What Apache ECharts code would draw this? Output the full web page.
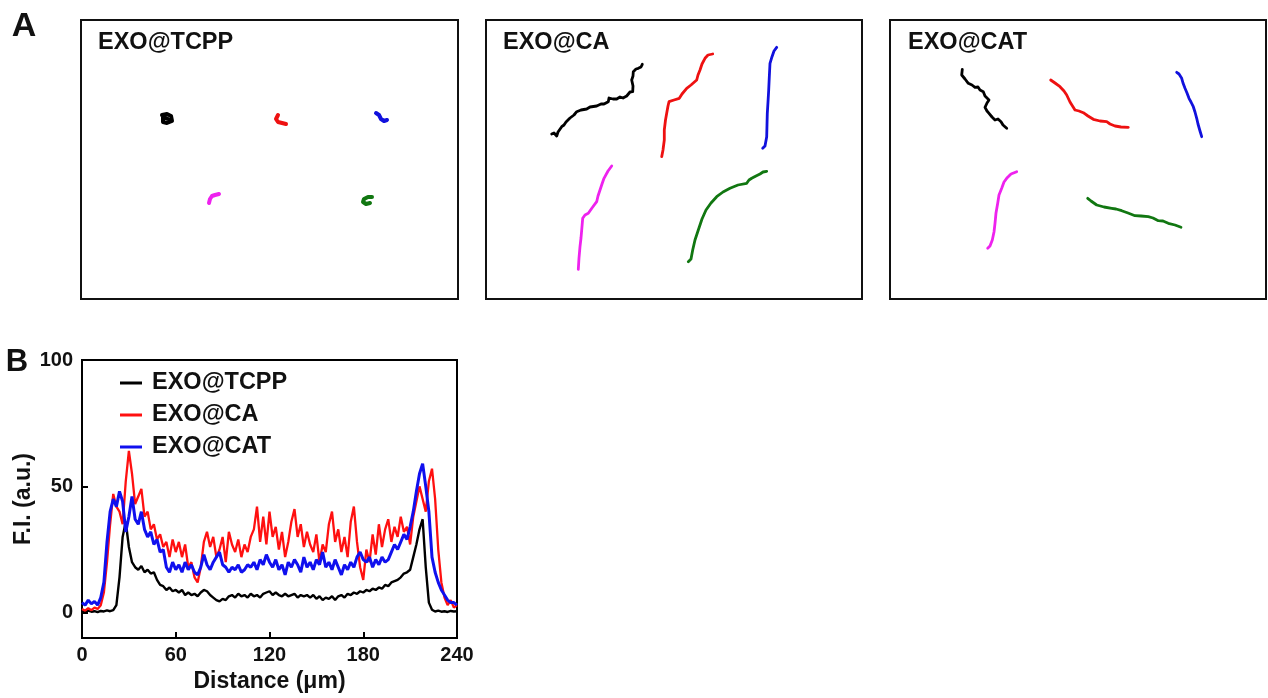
<!DOCTYPE html>
<html>
<head>
<meta charset="UTF-8">
<title>EXO trajectories and fluorescence profile</title>
<script src="https://cdn.jsdelivr.net/npm/echarts@6/dist/echarts.min.js"></script>
<style>
  html, body { margin: 0; padding: 0; background: #fff; }
  #main { width: 1268px; height: 698px; }
</style>
</head>
<body>
<div id="main"></div>
<script>
// ---- panel B: line profile (distance in um, F.I. in a.u.) ----
var distance = [
  0, 2, 4, 6, 8, 10, 12, 14, 16, 18,
  20, 22, 24, 26, 28, 30, 32, 34, 36, 38,
  40, 42, 44, 46, 48, 50, 52, 54, 56, 58,
  60, 62, 64, 66, 68, 70, 72, 74, 76, 78,
  80, 82, 84, 86, 88, 90, 92, 94, 96, 98,
  100, 102, 104, 106, 108, 110, 112, 114, 116, 118,
  120, 122, 124, 126, 128, 130, 132, 134, 136, 138,
  140, 142, 144, 146, 148, 150, 152, 154, 156, 158,
  160, 162, 164, 166, 168, 170, 172, 174, 176, 178,
  180, 182, 184, 186, 188, 190, 192, 194, 196, 198,
  200, 202, 204, 206, 208, 210, 212, 214, 216, 218,
  220, 222, 224, 226, 228, 230, 232, 234, 236, 238,
  240
];
var fiTCPP = [
  0.5, 0.3, 0.8, 0.4, 0.6, 0.2, 0.7, 0.5, 0.9, 0.6,
  1.0, 3, 14, 30, 36, 26, 20, 18, 17, 18.5,
  16, 17, 15.5, 16, 13, 11, 10.5, 9, 10, 8.5,
  9, 8, 9, 7, 8, 7, 7.5, 6.5, 8, 9,
  8.5, 7, 6, 5, 4.5, 5.5, 5, 6.5, 7, 6,
  7.5, 6.5, 7, 6, 7.5, 6.5, 7, 6, 7.5, 8,
  8.5, 7, 8, 7, 6.5, 7.5, 6.5, 7, 7.5, 6,
  7, 6.5, 7, 6, 7, 5.5, 6.5, 5, 6, 5.5,
  6.5, 5, 6.5, 7, 6, 7.5, 7, 8, 7.5, 8.5,
  8, 9, 8.5, 9.5, 9, 10, 9.5, 11, 10.5, 12,
  12.5, 13, 14, 15.5, 16, 17, 22, 27, 33, 37,
  18, 4, 1.2, 0.5, 0.8, 0.4, 0.6, 0.3, 0.7, 0.5,
  0.6
];
var fiCA = [
  1.5, 0.8, 1.8, 1.0, 2.0, 1.5, 3, 8, 20, 35,
  47, 42, 40, 35, 52, 64, 55, 43, 46, 49,
  38, 40, 33, 35, 29, 31, 26, 28, 22, 29,
  24, 28, 22, 27, 18, 20, 14, 12, 18, 28,
  32, 26, 30, 22, 25, 30, 20, 32, 27, 24,
  29, 22, 27, 24, 30, 33, 42, 28, 38, 27,
  40, 30, 34, 25, 32, 22, 28, 36, 41, 30,
  35, 26, 32, 27, 24, 31, 20, 27, 24, 35,
  40, 28, 33, 24, 30, 22, 36, 42, 28, 18,
  13, 25, 20, 31, 23, 35, 26, 33, 37, 28,
  34, 30, 38, 32, 34, 27, 38, 44, 50, 45,
  40, 52, 57, 45, 25, 12, 6, 3, 5, 2,
  3
];
var fiCAT = [
  4, 3, 5, 3.5, 4.5, 3, 6, 12, 28, 40,
  45, 42, 48, 44, 32, 38, 46, 37, 35, 40,
  33, 30, 32, 27, 29, 24, 25, 18, 16, 20,
  17, 19, 16, 20, 17, 19, 16, 15, 18, 23,
  19, 17, 20, 22, 24, 19, 18, 16, 18, 17,
  19, 16, 17, 19, 18, 20, 17, 21, 19, 23,
  20, 18, 21, 17, 19, 15, 20, 18, 21, 19,
  16, 22, 18, 20, 17, 21, 19, 24, 18, 20,
  17, 21, 18, 15, 19, 17, 20, 18, 22, 24,
  21, 20, 22, 18, 21, 19, 22, 20, 21, 24,
  27, 25, 28, 31, 29, 34, 40, 48, 55, 59,
  50, 40, 22, 16, 12, 9, 7, 5, 4, 4,
  3
];
var xTicks = [0, 60, 120, 180, 240];
var yTicks = [0, 50, 100];
var profileNames = ['EXO@TCPP', 'EXO@CA', 'EXO@CAT'];

// ---- panel A: single particle trajectories (box coordinates, px) ----
var tcppBlack = [[81,95],[86,94],[90,96],[91,101],[86,103],[82,102],[82,97],[87,99]];
var tcppRed = [[197,95],[195,99],[197,102],[201,103],[205,104]];
var tcppBlue = [[295,93],[298,95],[300,99],[303,101],[306,100]];
var tcppMagenta = [[128,183],[129,179],[131,176],[134,175],[138,174]];
var tcppGreen = [[291,177],[287,177],[283,179],[282,182],[285,184],[289,183]];

var caBlack = [[65.7,114],[68,113],[70.7,116],[72,112],[75.7,106.7],[78,105],[80,102],[84,98],[86,99],[88,95],[90.7,91.7],[95,90],[100.7,89],[104,87],[110.7,86],[115,84],[118,84],[122.3,81.7],[123,78],[127,79],[130.7,79],[134,77],[137,78],[140.7,76],[144,72],[146.7,71.7],[147,66],[145.7,60],[147,56],[147.3,51.7],[150,49],[152.3,48.3],[155,47],[154,45],[156.3,44.3]];
var caRed = [[175.7,136.7],[177,130],[178.3,120],[178.3,110],[179.5,100],[180.7,93.3],[182,86],[183,81.7],[188,80],[193.3,78.3],[196,74],[200.7,68.3],[205,65],[210.7,60],[212,55],[214,50],[216,44],[219,38.3],[222,35],[226.7,34]];
var caBlue = [[276.7,128.3],[279,126],[280.7,116.7],[281,105],[281.3,93.3],[282,82],[282.7,70],[283.3,57],[284,43.3],[286,36.7],[288,31],[290.7,27.3]];
var caMagenta = [[92.3,249.3],[93,238],[94,226.7],[95,218],[95.7,210],[96.7,198.3],[99,195],[102.3,193.3],[106,188],[110.7,181.7],[112,176],[114,170],[116,164],[118,158.3],[122,151],[125.7,146]];
var caGreen = [[202.3,241.7],[205,239],[206.7,230],[209,220],[212.3,210],[216,199],[220,190],[225,183],[230.7,176.7],[237,172],[244,168.3],[252,165],[260.7,163.3],[263,160],[265.7,158.3],[270,156],[274,154],[277,152],[280.7,151.3]];

var catBlack = [[72.3,49.3],[71.7,55],[75,59],[78.3,63.3],[82,65],[85,67.3],[88,67],[90,70],[93.3,71.7],[95,76],[99,80],[97,83],[95,87.3],[97,91],[99,93.3],[102,97],[105,100],[108,99],[111,101.7],[113,105],[116.7,108.3]];
var catRed = [[160.7,60],[165,63],[170,66.7],[174,71],[176.7,75],[180,82],[185,90],[189,91],[193.3,92.7],[198,96],[203.3,99.3],[210,101],[216.7,101.7],[220,104],[225,106],[231,107],[238.3,107.3]];
var catBlue = [[286.7,52.3],[289,54],[291.7,58.3],[293,63],[295,68.3],[297,73],[299,78.3],[301,82],[303.3,86.7],[305,92],[306.7,98.3],[308,104],[310,111],[311.7,116.7]];
var catMagenta = [[97.7,228.3],[100,226],[102.3,220],[104,212],[105,203.3],[106,193],[107.7,183.3],[109,175],[111.7,168.3],[114,162],[116.7,158.3],[121,154],[126.7,151.7]];
var catGreen = [[197.7,178.3],[201,181],[206.7,185],[214,187],[221.7,188.3],[226,189],[231.7,190.7],[238,193],[245,195.7],[251,196],[258.3,196.7],[263,198],[268.3,200.7],[273,201],[278.3,203.3],[285,205],[291,207.3]];

var panelTitles = ['EXO@TCPP', 'EXO@CA', 'EXO@CAT'];
var trackColors = ['#000000', '#ee1111', '#1111dd', '#ee22ee', '#117711'];
var panelTracks = [
  [tcppBlack, tcppRed, tcppBlue, tcppMagenta, tcppGreen],
  [caBlack, caRed, caBlue, caMagenta, caGreen],
  [catBlack, catRed, catBlue, catMagenta, catGreen]
];

var FONT = '"Liberation Sans", Arial, sans-serif';
var myChart = echarts.init(document.getElementById('main'));

var panelLeft = [81, 486, 890];
var panelWidth = [377, 376, 376];
var grids = [], xAxes = [], yAxes = [], series = [];

for (var p = 0; p < 3; p++) {
  grids.push({ left: panelLeft[p], top: 20, width: panelWidth[p], height: 279,
    outerBoundsMode: 'none',
    show: true, borderColor: '#111', borderWidth: 2, backgroundColor: '#fff' });
  xAxes.push({ type: 'value', gridIndex: p, min: 0, max: panelWidth[p], show: false });
  yAxes.push({ type: 'value', gridIndex: p, min: 0, max: 279, inverse: true, show: false });
  for (var k = 0; k < 5; k++) {
    series.push({
      name: 'track-' + p + '-' + k,
      type: 'line', xAxisIndex: p, yAxisIndex: p,
      data: panelTracks[p][k], showSymbol: false, silent: true,
      lineStyle: { color: trackColors[k], width: p === 0 ? 4 : 2.8, join: 'round', cap: 'round' }
    });
  }
}

// panel B
grids.push({ left: 82, top: 360, width: 375, height: 278, outerBoundsMode: 'none',
  show: true, borderColor: '#000', borderWidth: 2, backgroundColor: 'transparent' });
xAxes.push({
  type: 'value', gridIndex: 3, min: 0, max: 240, interval: 60,
  name: 'Distance (\u03bcm)', nameLocation: 'middle', nameGap: 32, nameMoveOverlap: false,
  nameTextStyle: { fontFamily: FONT, fontWeight: 'bold', fontSize: 23, color: '#111' },
  axisLine: { show: false, onZero: false },
  axisTick: { show: true, inside: true, length: 6, lineStyle: { color: '#000', width: 2 } },
  axisLabel: { fontFamily: FONT, fontWeight: 'bold', fontSize: 20, color: '#111', margin: 7 },
  splitLine: { show: false }
});
yAxes.push({
  type: 'value', gridIndex: 3, min: -10, max: 100,
  name: 'F.I. (a.u.)', nameLocation: 'middle', nameGap: 47, nameMoveOverlap: false,
  nameTextStyle: { fontFamily: FONT, fontWeight: 'bold', fontSize: 23, color: '#111' },
  axisLine: { show: false, onZero: false },
  axisTick: { show: true, inside: true, length: 6, customValues: yTicks, lineStyle: { color: '#000', width: 2 } },
  axisLabel: { fontFamily: FONT, fontWeight: 'bold', fontSize: 20, color: '#111', margin: 9, customValues: yTicks },
  splitLine: { show: false }
});

var profileData = [fiTCPP, fiCA, fiCAT];
var profileColors = ['#000000', '#ff1010', '#1010ee'];
var profileWidths = [2.4, 2.3, 3];
for (var s = 0; s < 3; s++) {
  series.push({
    name: profileNames[s], type: 'line', xAxisIndex: 3, yAxisIndex: 3,
    data: distance.map(function (d, i) { return [d, profileData[s][i]]; }),
    showSymbol: false,
    itemStyle: { color: profileColors[s] },
    lineStyle: { color: profileColors[s], width: profileWidths[s] }
  });
}

var texts = [
  { type: 'text', x: 24, y: 27, style: { text: 'A', font: 'bold 34px ' + FONT, fill: '#111', textAlign: 'center', textVerticalAlign: 'middle' } },
  { type: 'text', x: 17, y: 362, style: { text: 'B', font: 'bold 31px ' + FONT, fill: '#111', textAlign: 'center', textVerticalAlign: 'middle' } }
];
var titleX = [98, 503, 908];
for (var t = 0; t < 3; t++) {
  texts.push({ type: 'text', x: titleX[t], y: 43, z: 10,
    style: { text: panelTitles[t], font: 'bold 23.5px ' + FONT, fill: '#111', textVerticalAlign: 'middle' } });
}

myChart.setOption({
  animation: false,
  backgroundColor: '#fff',
  grid: grids,
  xAxis: xAxes,
  yAxis: yAxes,
  legend: {
    data: profileNames, orient: 'vertical', left: 115, top: 366,
    itemWidth: 22, itemHeight: 3, itemGap: 8, icon: 'rect',
    textStyle: { fontFamily: FONT, fontWeight: 'bold', fontSize: 23.5, color: '#111', padding: [0, 0, 0, 5], lineHeight: 23 },
    selectedMode: false
  },
  graphic: texts,
  series: series
});
</script>
</body>
</html>
